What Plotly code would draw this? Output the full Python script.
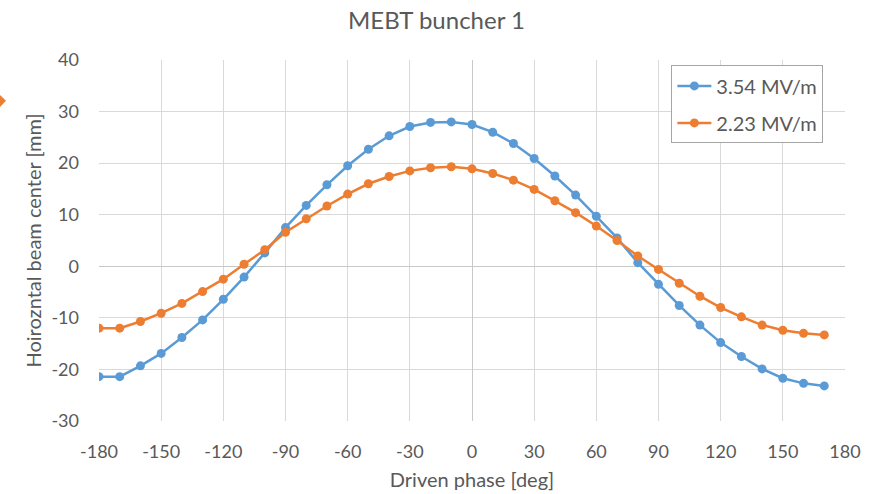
import plotly.graph_objects as go

phase = list(range(-180, 180, 10))

series_names = ["3.54 MV/m", "2.23 MV/m"]

blue_vals = [-21.4, -21.4, -19.3, -16.9, -13.8, -10.4, -6.4, -2.1, 2.6, 7.5,
             11.8, 15.8, 19.5, 22.7, 25.3, 27.1, 27.9, 28.0, 27.5, 26.0,
             23.8, 20.9, 17.5, 13.8, 9.7, 5.5, 0.7, -3.5, -7.6, -11.4,
             -14.8, -17.5, -19.9, -21.7, -22.7, -23.2]

orange_vals = [-12.0, -12.0, -10.7, -9.1, -7.2, -4.9, -2.5, 0.4, 3.2, 6.6,
               9.2, 11.7, 14.0, 16.0, 17.4, 18.5, 19.1, 19.3, 18.9, 18.0,
               16.7, 14.9, 12.7, 10.4, 7.8, 5.0, 2.0, -0.6, -3.3, -5.8,
               -8.0, -9.8, -11.4, -12.4, -13.0, -13.3]

x_ticks = list(range(-180, 181, 30))
y_ticks = list(range(-30, 41, 10))
x_ticktext = [str(v) for v in x_ticks]
y_ticktext = [str(v) for v in y_ticks]

colors = ["#5b9bd5", "#ed7d31"]
FONT = "Lato, 'Open Sans', sans-serif"
GRAY = "#595959"

fig = go.Figure()
for i, (name, vals, c) in enumerate(zip(series_names, [blue_vals, orange_vals], colors)):
    fig.add_trace(go.Scatter(
        x=phase, y=vals, name=name, mode="lines+markers",
        legendgroup=f"g{i}",
        line=dict(color=c, width=2.5),
        marker=dict(color=c, size=9),
    ))

fig.update_layout(
    width=873, height=494,
    margin=dict(l=99, r=28, t=60, b=73, autoexpand=False),
    paper_bgcolor="white", plot_bgcolor="white",
    font=dict(family=FONT, color=GRAY, size=18),
    title=dict(text="MEBT buncher 1", x=0.5, xanchor="center",
               y=0.958, yanchor="middle",
               font=dict(size=24, color=GRAY, family=FONT)),
    xaxis=dict(
        range=[-180, 180], tickvals=x_ticks, ticktext=x_ticktext, ticks="",
        showgrid=True, gridcolor="#d9d9d9", gridwidth=1,
        zeroline=True, zerolinecolor="#c8c8c8", zerolinewidth=1,
        showline=False, automargin=False,
        tickfont=dict(size=18, color=GRAY),
        ticklabelstandoff=18,
        title=dict(text="Driven phase [deg]", font=dict(size=20, color=GRAY), standoff=11),
    ),
    yaxis=dict(
        range=[-30, 40], tickvals=y_ticks, ticktext=y_ticktext, ticks="",
        showgrid=True, gridcolor="#d9d9d9", gridwidth=1,
        zeroline=True, zerolinecolor="#c8c8c8", zerolinewidth=1,
        showline=False, automargin=False,
        tickfont=dict(size=18, color=GRAY),
        ticklabelstandoff=19,
        title=dict(text="Hoirozntal beam center [mm]", font=dict(size=20, color=GRAY), standoff=4),
    ),
    legend=dict(
        x=0.971, y=0.985, xanchor="right", yanchor="top",
        bgcolor="white", bordercolor="#a6a6a6", borderwidth=1,
        font=dict(size=20, color=GRAY),
        traceorder="grouped",
        itemwidth=34, tracegroupgap=8,
    ),
    showlegend=True,
)

# fragment of an orange arrow at the left edge
fig.add_shape(type="path", xref="paper", yref="paper",
              path="M -0.1394 0.917 L -0.1247 0.887 L -0.1394 0.856 Z",
              fillcolor="#ed7d31", line=dict(width=0))

fig.write_html("out.html")
